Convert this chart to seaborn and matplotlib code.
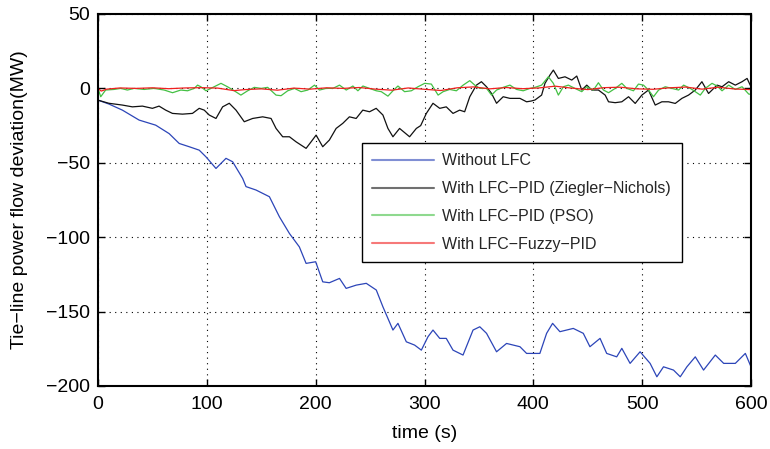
import numpy as np
import pandas as pd
import matplotlib
matplotlib.use("Agg")
import matplotlib.pyplot as plt
import seaborn as sns

# ---- data ----
blue_t = [0, 10, 22.4, 37.8, 53, 65.4, 74.6, 83.8, 93, 99.2, 108.4, 117.6, 123.7, 132.9, 136,
          145.2, 157.5, 166.7, 175.9, 185, 191.2, 200, 206.5, 212.6, 221.9, 228, 237.3, 246.5,
          255.7, 261.8, 271, 275.6, 283.3, 290.9, 297.1, 303.2, 307.8, 314, 320, 326.2, 335.4,
          344.6, 350.8, 357, 366.2, 375.4, 387.7, 393.8, 406, 412.2, 417.7, 424.4, 436.7, 445.9,
          452, 461.3, 467.4, 476.6, 481.3, 488.9, 498.1, 507.3, 513.5, 519.6, 528.8, 535, 541.1,
          548.8, 556.4, 567.2, 574.9, 585.6, 594.8, 600]
blue_v = [-7.9, -10.5, -14.6, -21.3, -24.7, -30.4, -37, -39.2, -41.5, -46, -53.8, -47, -49.3, -60.5, -66,
          -68.3, -72.8, -86.3, -97.5, -106.5, -117.6, -116.5, -130, -130.6, -127.7, -134.4, -132.2, -131,
          -135.5, -146.8, -162.4, -157.9, -170.3, -172.5, -175.9, -166.9, -162.4, -168, -168, -175.9, -179.2,
          -162.4, -160.2, -164.6, -177, -171.4, -173.6, -178.1, -178.1, -164.6, -157.9, -163.5, -161.3, -164.6,
          -173.6, -168, -178.1, -180.4, -174.7, -184.8, -177, -184.8, -193.8, -187.1, -189.3, -193.8, -187.1,
          -180.4, -189.3, -179.2, -184.8, -184.8, -178.1, -187.1]

black_t = [0, 10, 22.4, 31.6, 40.8, 50, 56.1, 62.2, 68.4, 77.6, 86.8, 93, 97.6, 102.2, 108.4, 114.5,
           120.6, 126.8, 134.4, 142.1, 151.3, 159, 163.6, 169.7, 175.9, 182, 191.2, 195.8, 200.4, 206.5,
           212.6, 218.8, 224.9, 231, 237.2, 243.3, 249.5, 255.6, 261.8, 266.4, 271, 277.1, 286.3, 292.5,
           296.5, 301.7, 307.8, 314, 320, 326.2, 332.3, 336.9, 341.6, 347.7, 352.3, 357, 361.6, 366.2,
           372.3, 378.5, 387.7, 393.8, 398, 401.5, 407.6, 410.7, 415.3, 418.4, 423, 429.1, 435.3, 439.9,
           444.5, 449.1, 453.7, 459.8, 466, 469.1, 475.2, 481.3, 487.5, 493.6, 499.7, 505.8, 512, 518.1,
           524.2, 530.4, 536.5, 542.6, 548.8, 554.9, 561, 568.8, 573.4, 579.5, 585.6, 591.8, 596.4, 600]
black_v = [-7.9, -10, -11.2, -12.4, -11.9, -13.4, -11.9, -14.6, -16.8, -17.3, -16.8, -13.4, -14.6, -17.9, -20.2, -12.4,
           -10, -14.6, -22.4, -20.2, -19.1, -20.2, -26.9, -32.5, -32.5, -35.9, -40.3, -35.9, -31.4, -39.2,
           -34.7, -26.9, -23.5, -19.1, -20.2, -14.6, -15.7, -13.4, -17.9, -26.9, -32.5, -26.9, -32.5, -26.9,
           -25, -16.8, -10, -13.4, -12.4, -16.8, -14.6, -15.7, -5.6, 2.2, 4.5, 1.1, -3.4, -10,
           -5.6, -6.7, -6.7, -9, -8.5, -7.8, -4.5, 3.4, 9, 12.3, 6.7, 7.8, 5.6, 8.3,
           -1.1, 2.2, -1.1, -1.1, -4.5, -9, -9.6, -9, -5.6, -10.1, -4.5, -1.1, -11.2, -9,
           -9, -10.1, -6.7, -4.5, -1.1, 4.5, -3.4, 2.2, 1.1, 4.5, 2.2, 4.5, 6.7, 1.1]

green_t = [0, 2.5, 7, 14.7, 20.9, 27, 33.1, 42.4, 51.6, 60.8, 68.5, 76.1, 82.3, 88.4, 91.5, 94.5, 99.2,
           103.7, 113, 119, 125.2, 131.3, 137.5, 143.6, 149.8, 155.9, 163.6, 168.2, 174.3, 180.5, 186.6,
           192.8, 198.9, 203.5, 209.7, 215.8, 221.9, 228.1, 234.2, 238.8, 243.4, 249.5, 255.7, 260.3,
           266.4, 271, 275.6, 281.7, 287.9, 294, 300.2, 306.3, 312.5, 317.1, 323.2, 329.3, 335.5, 341.6,
           346.2, 350.8, 357, 361.6, 366.2, 372.3, 378.5, 384.6, 390.7, 396.9, 401.5, 407.6, 413.8,
           418.4, 423, 427.6, 432.2, 438.3, 444.5, 449.1, 455.2, 459.8, 464.4, 469.1, 475.2, 481.3,
           485.9, 492, 496.6, 501.2, 505.8, 510.4, 515.1, 521.2, 527.3, 533.5, 538.1, 544.2, 548.8,
           553.4, 558, 564.2, 568.8, 573.4, 579.5, 585.6, 591.8, 597.9, 600]
green_v = [0, -5.6, -1.1, -0.7, 0, -1.1, 0, -0.7, 0, -1.1, -2.9, -1.1, -1.6, 0, 2.2, 1.1, -1.6,
           0, 3.4, 1.1, -1.6, -4.5, -1.6, 0.7, 0, 0.7, -4.5, -4.9, -1.6, 0, -2.2,
           -1.1, 2.2, -1.1, 0, 0, 2.2, -1.1, 1.6, -1.6, 1.6, 0, -1.6, -2.2,
           -5.2, -1.6, 1.6, -2.2, -1.6, 1.1, 3.4, 2.9, -4.5, -2.2, -0.7, -1.6, 2.2, 5.2,
           2.2, 0, 0, -4.5, -1.1, 0.7, 2.2, -0.7, -1.6, 0, 0.7, 2.2, 7.8,
           3.4, -4.5, 1.1, 2.2, 0, -2.2, 1.1, -1.1, 3.8, -1.1, -2.9, 0, 3.4,
           0, -1.6, 2.9, 2.2, -1.1, -5.6, -1.1, 1.1, 0, -1.1, 2.2, 0, -2.2,
           -4.5, 0, 3.4, 1.6, -1.6, 2.2, -0.7, 1.1, -3.8, -4]

red_t = [0, 3, 8, 20, 35, 50, 65, 80, 95, 110, 125, 135, 150, 165, 180, 195, 210, 225, 240, 255,
         270, 285, 300, 315, 330, 345, 360, 375, 390, 405, 420, 435, 450, 465, 480, 495, 510, 525,
         540, 555, 570, 585, 600]
red_v = [0, -1.8, -0.5, 0.3, 0, 0.4, -0.2, 0.3, 0.5, 0.2, -1.5, -0.8, -0.3, -1.2, 0.2, -0.5, 0.4, 0, 0.6, -0.5,
         -1.2, 0.3, -0.6, -1.4, 0.4, 1.0, -0.3, 0.6, -0.2, 0.3, 1.5, 0.2, -0.8, 0.5, 0.8, -0.3, -0.6, 0.4,
         0.9, -0.5, 0.8, -0.4, -0.8]

labels = ["Without LFC", "With LFC\u2212PID (Ziegler\u2212Nichols)",
          "With LFC\u2212PID (PSO)", "With LFC\u2212Fuzzy\u2212PID"]
colors = ["#2c45b8", "#111111", "#44c044", "#f02020"]

frames = []
for lab, t, v in zip(labels, [blue_t, black_t, green_t, red_t], [blue_v, black_v, green_v, red_v]):
    frames.append(pd.DataFrame({"t": t, "v": v, "series": lab}))
df = pd.concat(frames, ignore_index=True)

sns.set_theme(style="white")
plt.rcParams["font.family"] = ["Liberation Sans", "DejaVu Sans"]

fig = plt.figure(figsize=(7.7, 4.49), dpi=100)
ax = fig.add_axes([98 / 770, 1 - 386 / 449, 653 / 770, 372 / 449])

sns.lineplot(data=df, x="t", y="v", hue="series", hue_order=labels,
             palette=dict(zip(labels, colors)), estimator=None, sort=False,
             linewidth=0.9, ax=ax)

ax.set_xlim(0, 600)
ax.set_ylim(-200, 50)
ax.set_xticks(np.arange(0, 601, 100))
ax.set_yticks(np.arange(-200, 51, 50))
ax.set_yticklabels([f"{v}".replace("-", "\u2212") for v in range(-200, 51, 50)])
ax.tick_params(direction="in", length=5, width=1, labelsize=14, colors="black",
               top=True, right=True, bottom=True, left=True)
ax.tick_params(axis="x", pad=7)
ax.tick_params(axis="y", pad=5.5)
ax.grid(True, linestyle=(0, (1, 4)), color="black", linewidth=0.8)
for s in ax.spines.values():
    s.set_visible(True)
    s.set_color("black")
    s.set_linewidth(1.5)
ax.set_xlabel("time (s)", fontsize=14, color="black", labelpad=9)
ax.set_ylabel("Tie\u2212line power flow deviation(MW)", fontsize=14, color="black", labelpad=13)

leg = ax.legend(loc="upper left", bbox_to_anchor=(0.404, 0.653), frameon=True, fancybox=False,
                edgecolor="black", framealpha=1, fontsize=11.5, handlelength=3.85,
                borderaxespad=0, labelspacing=0.8, borderpad=0.65, handletextpad=0.55)
leg.get_frame().set_linewidth(1.0)
for line in leg.get_lines():
    line.set_linewidth(1.5)
    line.set_alpha(0.6)

fig.savefig("out.png", dpi=100)
